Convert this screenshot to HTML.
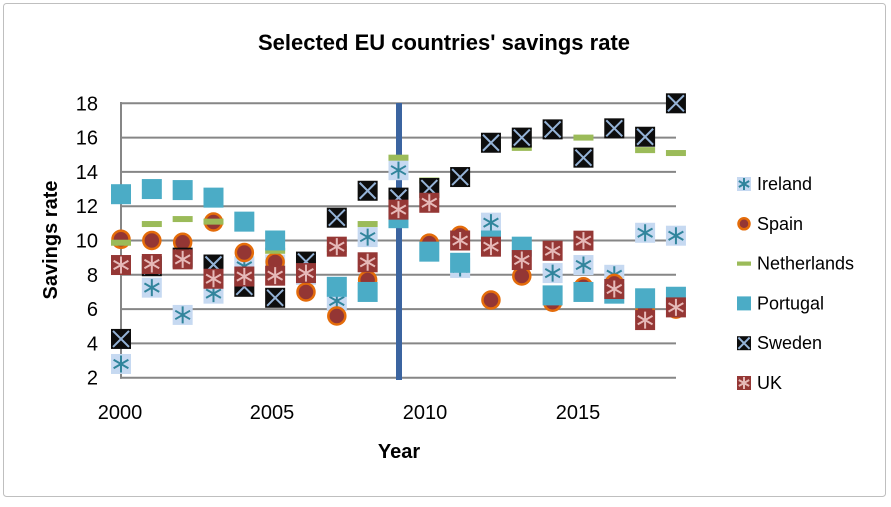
<!DOCTYPE html>
<html><head><meta charset="utf-8"><style>
body{margin:0;background:#fff}
svg text{font-family:"Liberation Sans",Arial,sans-serif}
</style></head><body>
<svg id="s" width="891" height="502" xmlns="http://www.w3.org/2000/svg">
<rect x="3.5" y="3.5" width="882" height="493" rx="3" fill="#fff" stroke="#bfbfbf"/>
<text x="444" y="50" text-anchor="middle" font-size="22" font-weight="bold">Selected EU countries' savings rate</text>
<g id="grid" stroke="#868686" stroke-width="2"></g>
<g id="yl" font-size="20" text-anchor="end"></g>
<g font-size="20" text-anchor="middle">
<text x="120" y="419">2000</text><text x="272" y="419">2005</text><text x="425" y="419">2010</text><text x="578" y="419">2015</text>
</g>
<text x="399" y="458" text-anchor="middle" font-size="20" font-weight="bold">Year</text>
<text transform="translate(57,240) rotate(-90)" text-anchor="middle" font-size="20" font-weight="bold">Savings rate</text>
<rect x="396" y="103" width="6" height="277" fill="#3b64a0"/>
<g id="m"></g>
<g id="lg" font-size="18"></g>
</svg>
<script>
const NS="http://www.w3.org/2000/svg";
function el(p,t,a){const e=document.createElementNS(NS,t);for(const k in a)e.setAttribute(k,a[k]);p.appendChild(e);return e;}
const yv=v=>377.7-(v-2)*17.15, xv=y=>121+(y-2000)*30.83;
const g=document.getElementById('grid'),yl=document.getElementById('yl');
for(let v=2;v<=18;v+=2){el(g,'line',{x1:120,x2:676,y1:yv(v),y2:yv(v)});const t=el(yl,'text',{x:98,y:yv(v)+7});t.textContent=v;}
el(g,'line',{x1:121,x2:121,y1:102,y2:378.7});
function star(p,x,y,h,c){el(p,'path',{d:`M${x} ${y-h}V${y+h}M${x-h*.87} ${y-h/2}L${x+h*.87} ${y+h/2}M${x-h*.87} ${y+h/2}L${x+h*.87} ${y-h/2}`,stroke:c,'stroke-width':2});}
function mk(p,s,x,y,k){const h=10*k;
 if(s==0){el(p,'rect',{x:x-h,y:y-h,width:2*h,height:2*h,fill:'#c6d9f1'});star(p,x,y,h*.85,'#31859c');}
 if(s==1){el(p,'circle',{cx:x,cy:y,r:h-1.5,fill:'#943634',stroke:'#e46c0a','stroke-width':2.5});}
 if(s==2){el(p,'rect',{x:x-h,y:y-3*k,width:2*h,height:6*k,fill:'#9bbb59'});}
 if(s==3){el(p,'rect',{x:x-h,y:y-h,width:2*h,height:2*h,fill:'#4bacc6'});}
 if(s==4){el(p,'rect',{x:x-h,y:y-h,width:2*h,height:2*h,fill:'#0d0d0d'});el(p,'path',{d:`M${x-h*.8} ${y-h*.8}L${x+h*.8} ${y+h*.8}M${x-h*.8} ${y+h*.8}L${x+h*.8} ${y-h*.8}`,stroke:'#95b3d7','stroke-width':2});}
 if(s==5){el(p,'rect',{x:x-h,y:y-h,width:2*h,height:2*h,fill:'#953735'});star(p,x,y,h*.85,'#e6b9b8');}
}
const D=[
[2.8,7.25,5.66,6.9,8.5,8.6,8.0,6.47,10.2,14.1,null,8.4,11.04,null,8.1,8.57,8.0,10.45,10.28],
[10.07,10.0,9.9,11.08,9.3,8.75,7.0,5.6,7.7,11.3,9.85,10.3,6.53,7.93,6.4,7.3,7.5,6.0,6.0],
[9.87,10.96,11.25,11.1,null,9.4,null,9.5,10.96,14.83,13.5,null,15.5,15.4,null,16.0,null,15.27,15.1],
[12.7,13.0,12.94,12.5,11.1,10.0,null,7.3,7.0,11.3,9.35,8.7,10.0,9.64,6.8,7.0,6.9,6.63,6.72],
[4.26,8.5,9.0,8.6,7.3,6.66,8.77,11.33,12.9,12.5,13.06,13.7,15.7,16.0,16.48,14.83,16.54,16.05,18.0],
[8.57,8.63,8.9,7.77,7.9,7.95,8.1,9.64,8.73,11.8,12.2,10.0,9.64,8.86,9.4,9.99,7.17,5.36,6.1]];
const m=document.getElementById('m');
D.forEach((a,s)=>a.forEach((v,i)=>{if(v!=null)mk(m,s,xv(2000+i),yv(v),1);}));
const lg=document.getElementById('lg');
['Ireland','Spain','Netherlands','Portugal','Sweden','UK'].forEach((n,i)=>{const y=184+i*39.8;mk(lg,i,744,y,0.7);const t=el(lg,'text',{x:757,y:y+6});t.textContent=n;});
</script>
</body></html>
